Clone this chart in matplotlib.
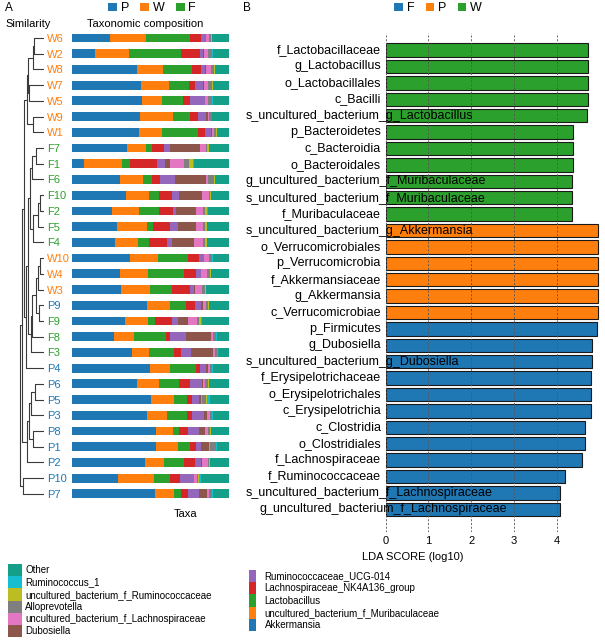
import matplotlib
matplotlib.use("Agg")
import matplotlib.pyplot as plt
from matplotlib.patches import Patch
from matplotlib.transforms import blended_transform_factory

plt.rcParams['font.family'] = ['Liberation Sans', 'DejaVu Sans']

# ---------------- data: panel A ----------------
samples = ['W6', 'W2', 'W8', 'W7', 'W5', 'W9', 'W1', 'F7', 'F1', 'F6', 'F10', 'F2', 'F5', 'F4',
           'W10', 'W4', 'W3', 'P9', 'F9', 'F8', 'F3', 'P4', 'P6', 'P5', 'P3', 'P8', 'P1', 'P2',
           'P10', 'P7']

taxa = ['Akkermansia', 'uncultured_bacterium_f_Muribaculaceae', 'Lactobacillus',
        'Lachnospiraceae_NK4A136_group', 'Ruminococcaceae_UCG-014', 'Dubosiella',
        'uncultured_bacterium_f_Lachnospiraceae', 'Alloprevotella',
        'uncultured_bacterium_f_Ruminococcaceae', 'Ruminococcus_1', 'Other']

akkermansia = [24.2, 14.8, 41.1, 44.1, 44.5, 43.6, 42.8, 35.0, 7.6, 30.5, 34.3, 25.4, 28.8, 27.3,
               36.9, 30.5, 31.1, 47.5, 33.5, 26.7, 38.3, 49.6, 41.1, 50.2, 47.9, 53.4, 53.4, 46.2,
               29.4, 52.8]
muribaculaceae = [22.9, 21.6, 16.7, 17.6, 13.1, 21.0, 14.8, 11.9, 24.2, 14.8, 14.6, 17.2, 18.9, 14.6,
                  17.8, 18.0, 18.6, 14.8, 14.8, 12.7, 10.8, 12.9, 14.6, 14.8, 12.5, 11.2, 14.4, 12.3,
                  22.9, 11.9]
lactobacillus = [28.2, 33.3, 18.9, 12.7, 13.3, 10.6, 22.7, 4.2, 5.1, 5.7, 6.6, 12.5, 4.0, 7.0,
                 19.1, 22.7, 14.0, 10.0, 4.7, 20.3, 16.1, 16.3, 12.5, 8.1, 12.9, 3.6, 7.4, 12.7,
                 10.2, 4.9]
nk4a136 = [6.6, 11.7, 5.3, 4.2, 4.0, 4.9, 4.7, 7.4, 17.2, 5.1, 8.1, 9.1, 10.6, 11.7,
           6.8, 7.6, 11.2, 5.9, 10.4, 2.8, 4.2, 2.5, 6.8, 3.6, 3.4, 5.7, 4.0, 7.4, 6.4, 4.4]
ucg014 = [3.2, 2.3, 3.0, 4.7, 9.5, 5.3, 3.8, 3.8, 4.9, 9.3, 4.4, 1.9, 5.5, 3.0,
          3.2, 3.2, 3.0, 3.8, 4.0, 10.0, 6.1, 4.2, 8.1, 4.4, 7.2, 6.8, 2.8, 3.8, 8.5, 6.8]
dubosiella = [0.5, 0.3, 0.5, 0.5, 0.5, 1.0, 0.3, 19.3, 3.4, 19.9, 15.0, 12.7, 11.0, 14.0,
              0.3, 0.3, 0.3, 1.7, 6.8, 15.9, 14.0, 1.3, 0.4, 0.8, 2.1, 4.2, 5.1, 0.4, 0.4, 5.1]
unc_lachno = [1.5, 2.8, 2.8, 2.8, 1.5, 0.8, 1.3, 3.6, 8.9, 1.1, 4.0, 4.4, 4.4, 5.7,
              3.4, 3.4, 4.4, 1.7, 5.5, 1.3, 1.5, 1.1, 1.3, 0.8, 1.7, 1.7, 0.5, 3.6, 1.5, 1.5]
alloprevotella = [1.3, 2.1, 2.1, 2.5, 2.5, 1.7, 1.5, 1.1, 3.0, 4.2, 0.6, 1.7, 1.5, 1.5,
                  1.5, 2.1, 2.3, 1.1, 1.3, 1.9, 1.3, 1.1, 1.7, 2.8, 1.3, 1.5, 4.0, 0.8, 0.8, 1.5]
unc_rumino = [0.5, 0.5, 0.5, 0.4, 0.3, 0.3, 0.3, 1.0, 2.5, 0.3, 0.8, 1.3, 1.1, 1.1,
              0.4, 0.5, 0.4, 0.8, 1.3, 0.3, 0.3, 0.4, 0.5, 0.3, 0.4, 0.4, 0.3, 0.8, 0.8, 0.4]
ruminococcus1 = [0.3, 0.2, 0.2, 0.2, 0.3, 0.2, 0.2, 0.2, 0.8, 0.2, 0.2, 0.2, 0.2, 0.2,
                 0.2, 0.2, 0.2, 0.2, 0.8, 0.3, 0.2, 0.2, 0.2, 2.1, 0.2, 0.3, 0.2, 0.2, 1.3, 0.2]
other = [10.8, 10.4, 8.9, 10.3, 10.5, 10.6, 7.6, 12.5, 22.4, 8.9, 11.4, 13.6, 14.0, 13.9,
         10.4, 11.5, 14.5, 12.5, 16.9, 7.8, 7.2, 10.4, 12.8, 12.1, 10.4, 11.2, 7.9, 11.8, 17.8, 10.5]

taxa_values = [akkermansia, muribaculaceae, lactobacillus, nk4a136, ucg014, dubosiella,
               unc_lachno, alloprevotella, unc_rumino, ruminococcus1, other]

# dendrogram merges: (node, left, right, height)
merges = [
    ('A', 'W6', 'W2', 9.7), ('B', 'A', 'W8', 11.3), ('C', 'W7', 'W5', 14.7),
    ('D', 'B', 'C', 16.0), ('E', 'W9', 'W1', 10.7), ('Wc', 'D', 'E', 17.3),
    ('F71', 'F7', 'F1', 8.0), ('F716', 'F71', 'F6', 12.0), ('F102', 'F10', 'F2', 4.0),
    ('F1025', 'F102', 'F5', 6.3), ('F10254', 'F1025', 'F4', 10.7), ('Fc', 'F716', 'F10254', 14.0),
    ('W104', 'W10', 'W4', 4.0), ('W1043', 'W104', 'W3', 6.3), ('PF9', 'P9', 'F9', 4.7),
    ('G', 'W1043', 'PF9', 8.3), ('H', 'G', 'F8', 12.5), ('I', 'H', 'F3', 13.5),
    ('J', 'Fc', 'I', 16.0), ('K', 'J', 'P4', 18.0), ('L', 'Wc', 'K', 20.0),
    ('P65', 'P6', 'P5', 9.0), ('P653', 'P65', 'P3', 13.3), ('P81', 'P8', 'P1', 10.7),
    ('PM', 'P653', 'P81', 14.7), ('PM2', 'PM', 'P2', 16.7), ('M', 'L', 'PM2', 22.5),
    ('P107', 'P10', 'P7', 21.3), ('root', 'M', 'P107', 24.5),
]

# ---------------- data: panel B ----------------
lda_features = ['f_Lactobacillaceae', 'g_Lactobacillus', 'o_Lactobacillales', 'c_Bacilli',
                's_uncultured_bacterium_g_Lactobacillus', 'p_Bacteroidetes', 'c_Bacteroidia',
                'o_Bacteroidales', 'g_uncultured_bacterium_f_Muribaculaceae',
                's_uncultured_bacterium_f_Muribaculaceae', 'f_Muribaculaceae',
                's_uncultured_bacterium_g_Akkermansia', 'o_Verrucomicrobiales', 'p_Verrucomicrobia',
                'f_Akkermansiaceae', 'g_Akkermansia', 'c_Verrucomicrobiae', 'p_Firmicutes',
                'g_Dubosiella', 's_uncultured_bacterium_g_Dubosiella', 'f_Erysipelotrichaceae',
                'o_Erysipelotrichales', 'c_Erysipelotrichia', 'c_Clostridia', 'o_Clostridiales',
                'f_Lachnospiraceae', 'f_Ruminococcaceae', 's_uncultured_bacterium_f_Lachnospiraceae',
                'g_uncultured_bacterium_f_Lachnospiraceae']
lda_groups = ['W'] * 11 + ['P'] * 6 + ['F'] * 12
lda_scores = [4.72, 4.72, 4.72, 4.72, 4.71, 4.39, 4.39, 4.39, 4.35, 4.35, 4.35,
              4.97, 4.97, 4.97, 4.97, 4.97, 4.97, 4.95, 4.82, 4.82, 4.81, 4.81, 4.81,
              4.66, 4.66, 4.60, 4.20, 4.08, 4.08]
lda_ticks = [0, 1, 2, 3, 4]

# ---------------- styles ----------------
taxa_colors = ['#1f77b4', '#ff7f0e', '#2ca02c', '#d62728', '#9467bd', '#8c564b',
               '#e377c2', '#7f7f7f', '#bcbd22', '#17becf', '#14a088']
colorA = {'P': '#1f77b4', 'W': '#ff7f0e', 'F': '#2ca02c'}
colorB = {'F': '#1f77b4', 'P': '#ff7f0e', 'W': '#2ca02c'}
label_shift = {'g_uncultured_bacterium_f_Lachnospiraceae': 14}

W, H = 605, 643
fig = plt.figure(figsize=(W / 100, H / 100), dpi=100)


def px_axes(x0, y0, x1, y1):
    return fig.add_axes([x0 / W, 1 - y1 / H, (x1 - x0) / W, (y1 - y0) / H])


n = len(samples)
row_top, row_step = 38.0, 15.72
ya0 = row_top - row_step / 2
ya1 = row_top + row_step * (n - 1) + row_step / 2

# ---- stacked bars ----
axb = px_axes(72, ya0, 229, ya1)
left = [0.0] * n
for vals, col in zip(taxa_values, taxa_colors):
    axb.barh(range(n), vals, left=left, height=0.56, color=col, linewidth=0)
    left = [l + v for l, v in zip(left, vals)]
axb.set_xlim(0, 100)
axb.set_ylim(n - 0.5, -0.5)
axb.set_xticks([])
axb.set_yticks(range(n))
axb.set_yticklabels(samples, fontsize=8)
axb.tick_params(axis='y', length=0, pad=18)
for lab, s in zip(axb.get_yticklabels(), samples):
    lab.set_ha('left')
    lab.set_color(colorA[s[0]])
for sp in axb.spines.values():
    sp.set_visible(False)

# ---- dendrogram ----
axd = px_axes(10, ya0, 44, ya1)
pos = {s: (float(i), 0.0) for i, s in enumerate(samples)}
for node, a, b, h in merges:
    ya, ha = pos[a]
    yb, hb = pos[b]
    axd.plot([ha, h, h, hb], [ya, ya, yb, yb], color='#3a3a3a', lw=0.8, solid_capstyle='butt')
    pos[node] = ((ya + yb) / 2, h)
axd.set_xlim(34, 0)
axd.set_ylim(n - 0.5, -0.5)
axd.axis('off')

# ---- panel A texts ----
fig.text(5 / W, 1 - 8 / H, 'A', fontsize=8.5, va='center')
fig.text(5 / W, 1 - 24 / H, 'Similarity', fontsize=8, va='center')
fig.text(145 / W, 1 - 24 / H, 'Taxonomic composition', fontsize=8, va='center', ha='center')
fig.text(186 / W, 1 - 514 / H, 'Taxa', fontsize=8, va='center', ha='center')

hA = [Patch(facecolor=colorA[g], edgecolor='none') for g in ['P', 'W', 'F']]
fig.legend(hA, ['P', 'W', 'F'], ncol=3, loc='center', bbox_to_anchor=(152 / W, 1 - 8 / H),
           frameon=False, fontsize=9, handlelength=0.7, handleheight=0.6, handletextpad=0.3,
           columnspacing=0.9, borderpad=0, borderaxespad=0)

# ---- panel B ----
nb = len(lda_features)
axl = px_axes(385.5, 33, 600, 532)
axl.barh(range(nb), lda_scores, height=0.82, color=[colorB[g] for g in lda_groups],
         edgecolor='#1a1a1a', linewidth=0.8, zorder=1)
axl.set_xlim(0, 5.01)
axl.set_ylim(28 + 1.38, -1.04)
axl.set_yticks([])
axl.set_xticks(lda_ticks)
axl.set_xticklabels([str(t) for t in lda_ticks], fontsize=8)
axl.tick_params(axis='x', length=0, pad=3)
for t in lda_ticks:
    axl.axvline(t, color='#555555', lw=0.6, ls=(0, (2.5, 2)), zorder=3)
for sp in axl.spines.values():
    sp.set_visible(False)

tr = blended_transform_factory(fig.transFigure, axl.transData)
texts = []
for i, name in enumerate(lda_features):
    texts.append(axl.text(381 / W, i, name, transform=tr, ha='right', va='center',
                          fontsize=9, zorder=4))
renderer = fig.canvas.get_renderer()
for t, name in zip(texts, lda_features):
    bb = t.get_window_extent(renderer)
    if bb.x0 < 246:
        t.set_ha('left')
        t.set_x((246 + label_shift.get(name, 0)) / W)

fig.text(243 / W, 1 - 8 / H, 'B', fontsize=8.5, va='center')
fig.text(413 / W, 1 - 557 / H, 'LDA SCORE (log10)', fontsize=8, va='center', ha='center')

hB = [Patch(facecolor=colorB[g], edgecolor='none') for g in ['F', 'P', 'W']]
fig.legend(hB, ['F', 'P', 'W'], ncol=3, loc='center', bbox_to_anchor=(438 / W, 1 - 8 / H),
           frameon=False, fontsize=9, handlelength=0.7, handleheight=0.6, handletextpad=0.3,
           columnspacing=0.9, borderpad=0, borderaxespad=0)

# ---- bottom legends ----
left_idx = [10, 9, 8, 7, 6, 5]
right_idx = [4, 3, 2, 1, 0]
hL = [Patch(facecolor=taxa_colors[i], edgecolor='none') for i in left_idx]
fig.legend(hL, [taxa[i] for i in left_idx], loc='upper left',
           bbox_to_anchor=(8 / W, 1 - 564 / H), frameon=False, fontsize=7,
           handlelength=1.45, handleheight=1.55, handletextpad=0.3, labelspacing=0.0,
           borderpad=0, borderaxespad=0)
hR = [Patch(facecolor=taxa_colors[i], edgecolor='none') for i in right_idx]
fig.legend(hR, [taxa[i] for i in right_idx], loc='upper left',
           bbox_to_anchor=(249 / W, 1 - 570 / H), frameon=False, fontsize=7,
           handlelength=0.7, handleheight=1.55, handletextpad=0.9, labelspacing=0.0,
           borderpad=0, borderaxespad=0)

fig.savefig('out.png', dpi=100)
